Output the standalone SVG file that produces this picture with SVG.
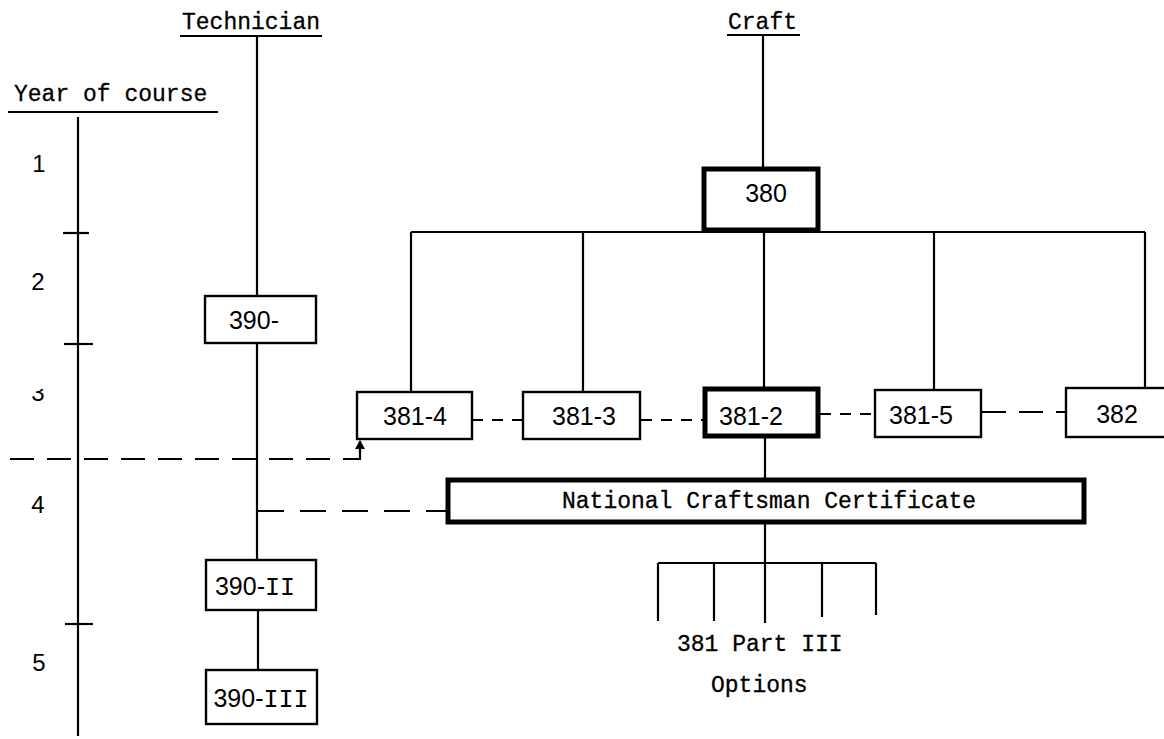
<svg xmlns="http://www.w3.org/2000/svg" width="1164" height="739" viewBox="0 0 1164 739">
<style>
.ln{stroke:#000;stroke-width:2.2;fill:none}
.dl{stroke:#000;stroke-width:2.2;fill:none;stroke-dasharray:24 13}
.ds{stroke:#000;stroke-width:2.2;fill:none;stroke-dasharray:11 9}
.bx{fill:#fff;stroke:#000;stroke-width:2.4}
.bt{fill:#fff;stroke:#000;stroke-width:5}
.tw{font-family:"Liberation Mono","Courier New",monospace;font-size:23px;fill:#000;stroke:#000;stroke-width:0.3}
.nm{font-family:"Liberation Sans",Arial,sans-serif;font-size:25px;fill:#000;text-anchor:middle}
.rn{font-family:"Liberation Mono","Courier New",monospace}
.yr{font-family:"Liberation Sans",Arial,sans-serif;font-size:24px;fill:#000;text-anchor:middle}
</style>
<defs>
<clipPath id="c3"><rect x="20" y="389" width="40" height="30"/></clipPath>
</defs>
<rect width="1164" height="739" fill="#fff"/>

<g id="year-axis">
<text class="tw" x="14" y="101">Year of course</text>
<line class="ln" x1="8" y1="112" x2="218" y2="112"/>
<line class="ln" x1="78" y1="117" x2="78" y2="736"/>
<line class="ln" x1="63" y1="233" x2="89" y2="233"/>
<line class="ln" x1="64" y1="344" x2="93" y2="344"/>
<line class="ln" x1="65" y1="624" x2="93" y2="624"/>
<text class="yr" x="39" y="172">1</text>
<text class="yr" x="38" y="290">2</text>
<text class="yr" x="38" y="401" clip-path="url(#c3)">3</text>
<text class="yr" x="38" y="513">4</text>
<text class="yr" x="39" y="671">5</text>
</g>

<g id="connectors">
<line class="ln" x1="257" y1="37" x2="257" y2="297"/>
<line class="ln" x1="257" y1="343" x2="257" y2="560"/>
<line class="ln" x1="258" y1="610" x2="258" y2="670"/>
<line class="ln" x1="763" y1="36" x2="763" y2="168"/>
<line class="ln" x1="411" y1="232" x2="1145" y2="232"/>
<line class="ln" x1="411" y1="232" x2="411" y2="393"/>
<line class="ln" x1="583" y1="232" x2="583" y2="393"/>
<line class="ln" x1="764" y1="232" x2="764" y2="389"/>
<line class="ln" x1="934" y1="232" x2="934" y2="390"/>
<line class="ln" x1="1145" y1="232" x2="1145" y2="388"/>
<line class="ds" x1="472" y1="420" x2="523" y2="420"/>
<line class="ds" x1="641" y1="420" x2="704" y2="420"/>
<line class="ds" x1="820" y1="414" x2="875" y2="414"/>
<line class="dl" x1="982" y1="412" x2="1066" y2="412"/>
<line class="ln" x1="765" y1="437" x2="765" y2="479"/>
<line class="ln" x1="765" y1="523" x2="765" y2="563"/>
<line class="ln" x1="658" y1="563" x2="876" y2="563"/>
<line class="ln" x1="658" y1="563" x2="658" y2="621"/>
<line class="ln" x1="714" y1="563" x2="714" y2="621"/>
<line class="ln" x1="765" y1="563" x2="765" y2="623"/>
<line class="ln" x1="822" y1="563" x2="822" y2="617"/>
<line class="ln" x1="876" y1="563" x2="876" y2="615"/>
<path class="dl" d="M10 459 H346"/>
<path class="ln" d="M346 459 H360 V441"/>
<path d="M355 449 L360 440 L365 449 Z" fill="#000"/>
<path class="dl" d="M258 511 H446" style="stroke-dasharray:26 16"/>
</g>

<g id="technician-header">
<text class="tw" x="182" y="29">Technician</text>
<line class="ln" x1="180" y1="36" x2="322" y2="36"/>
</g>

<g id="craft-header">
<text class="tw" x="728" y="29">Craft</text>
<line class="ln" x1="727" y1="35" x2="800" y2="35"/>
</g>

<g id="n390">
<rect class="bx" x="205" y="296" width="111" height="47"/>
<text class="nm" x="254" y="329">390-</text>
</g>
<g id="n390-II">
<rect class="bx" x="206" y="560" width="110" height="50"/>
<text class="nm" x="255" y="595">390-<tspan class="rn">II</tspan></text>
</g>
<g id="n390-III">
<rect class="bx" x="206" y="670" width="111" height="54"/>
<text class="nm" x="261" y="707">390-<tspan class="rn">III</tspan></text>
</g>

<g id="n380">
<rect class="bt" x="704" y="169" width="114" height="61"/>
<text class="nm" x="766" y="202">380</text>
</g>
<g id="n381-4">
<rect class="bx" x="357" y="392" width="115" height="47"/>
<text class="nm" x="415" y="425">381-4</text>
</g>
<g id="n381-3">
<rect class="bx" x="523" y="392" width="117" height="47"/>
<text class="nm" x="584" y="425">381-3</text>
</g>
<g id="n381-2">
<rect class="bt" x="705" y="389" width="113" height="47"/>
<text class="nm" x="751" y="425">381-2</text>
</g>
<g id="n381-5">
<rect class="bx" x="875" y="390" width="106" height="47"/>
<text class="nm" x="921" y="424">381-5</text>
</g>
<g id="n382">
<rect class="bx" x="1066" y="388" width="110" height="49"/>
<text class="nm" x="1117" y="423">382</text>
</g>
<g id="ncc">
<rect class="bt" x="448" y="480" width="636" height="42"/>
<text class="tw" x="562" y="508">National Craftsman Certificate</text>
</g>
<g id="options">
<text class="tw" x="677" y="651">381 Part III</text>
<text class="tw" x="711" y="692">Options</text>
</g>
</svg>
